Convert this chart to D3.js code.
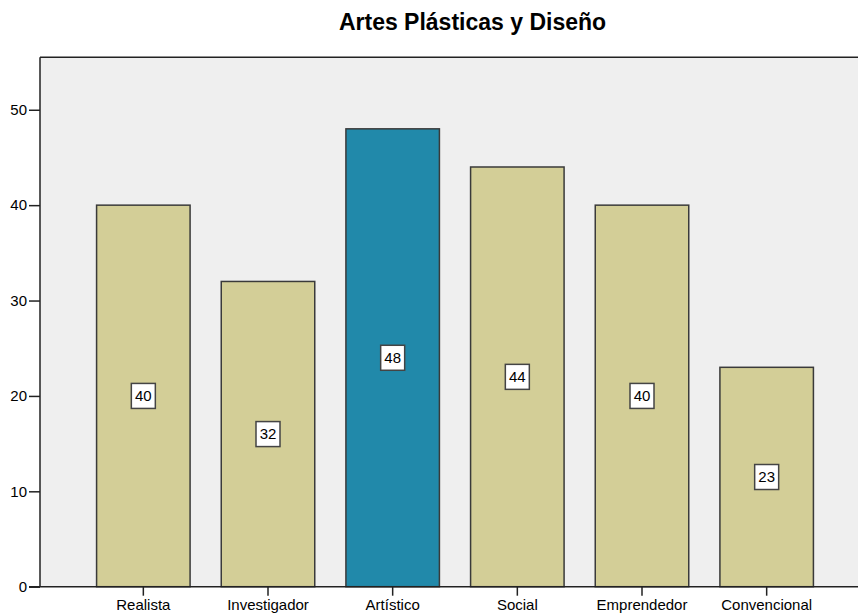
<!DOCTYPE html>
<html>
<head>
<meta charset="utf-8">
<script src="https://cdn.jsdelivr.net/npm/d3@7/dist/d3.min.js"></script>
<style>
html,body{margin:0;padding:0;background:#fff;}
svg{display:block;font-family:"Liberation Sans",Arial,sans-serif;}
</style>
</head>
<body>
<svg id="chart" width="858" height="614"></svg>
<script>
const title = "Artes Plásticas y Diseño";
const categories = ["Realista","Investigador","Artístico","Social","Emprendedor","Convencional"];
const values = [40, 32, 48, 44, 40, 23];
const highlight = ["Artístico"];
const yTicks = [0, 10, 20, 30, 40, 50];

const svg = d3.select("#chart");
const plotLeft = 40, plotRight = 860, plotTop = 57.3, plotBottom = 586.7;

const x = d3.scaleBand().domain(categories).range([81, 829]).paddingInner(0.25).paddingOuter(0.125);
const y = d3.scaleLinear().domain([0, 55.5]).range([plotBottom, plotTop]);

// background
svg.append("rect").attr("x", plotLeft).attr("y", plotTop)
  .attr("width", plotRight - plotLeft).attr("height", plotBottom - plotTop)
  .attr("fill", "#EFEFEF");

// title
svg.append("text").attr("x", 472.5).attr("y", 29.5).attr("text-anchor", "middle")
  .attr("font-size", 23).attr("font-weight", "bold").attr("fill", "#000").text(title);

// bars
svg.append("g").selectAll("rect").data(categories).join("rect")
  .attr("x", d => x(d)).attr("width", x.bandwidth())
  .attr("y", (d, i) => y(values[i])).attr("height", (d, i) => y(0) - y(values[i]))
  .attr("fill", d => highlight.includes(d) ? "#2189AA" : "#D3CE97")
  .attr("stroke", "#3a3a3a").attr("stroke-width", 1.5);

// value labels
const lab = svg.append("g").selectAll("g").data(categories).join("g")
  .attr("transform", (d, i) => `translate(${x(d) + x.bandwidth() / 2},${(y(values[i]) + y(0)) / 2})`);
lab.append("rect").attr("x", -12).attr("y", -12.5).attr("width", 24).attr("height", 25)
  .attr("fill", "#fff").attr("stroke", "#444").attr("stroke-width", 1.5);
lab.append("text").attr("text-anchor", "middle").attr("dy", "0.36em")
  .attr("font-size", 15).attr("fill", "#000").text((d, i) => values[i]);

// y axis
const yAxis = svg.append("g").attr("transform", `translate(${plotLeft},0)`)
  .call(d3.axisLeft(y).tickValues(yTicks).tickSize(11).tickPadding(2).tickSizeOuter(0));
yAxis.select(".domain").remove();
yAxis.selectAll(".tick line").attr("stroke", "#222").attr("stroke-width", 1.5);
yAxis.selectAll(".tick text").attr("font-size", 15).attr("fill", "#000")
  .attr("font-family", "Liberation Sans, Arial, sans-serif");

// x axis
const xAxis = svg.append("g").attr("transform", `translate(0,${plotBottom})`)
  .call(d3.axisBottom(x).tickSize(9).tickPadding(4).tickSizeOuter(0));
xAxis.select(".domain").remove();
xAxis.selectAll(".tick line").attr("stroke", "#222").attr("stroke-width", 1.5);
xAxis.selectAll(".tick text").attr("font-size", 15).attr("fill", "#000")
  .attr("font-family", "Liberation Sans, Arial, sans-serif");

// frame lines
svg.append("line").attr("x1", plotLeft).attr("x2", plotRight).attr("y1", plotTop).attr("y2", plotTop)
  .attr("stroke", "#222").attr("stroke-width", 1.5);
svg.append("line").attr("x1", plotLeft).attr("x2", plotLeft).attr("y1", plotTop).attr("y2", plotBottom)
  .attr("stroke", "#222").attr("stroke-width", 1.5);
svg.append("line").attr("x1", plotLeft - 11).attr("x2", plotRight).attr("y1", plotBottom).attr("y2", plotBottom)
  .attr("stroke", "#222").attr("stroke-width", 1.5);
</script>
</body>
</html>
